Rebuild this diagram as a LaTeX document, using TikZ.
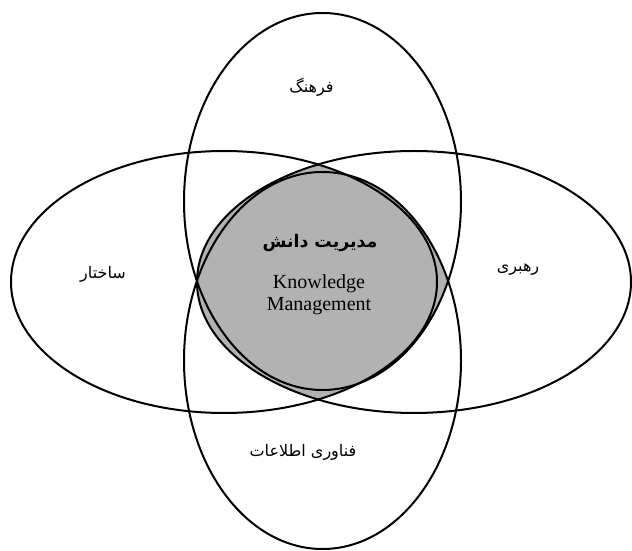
\documentclass[tikz,border=0pt]{standalone}
\usepackage{fontspec}
\setmainfont{Liberation Serif}
\newfontfamily\arabicfont[Script=Arabic]{DejaVu Sans}
\TeXXeTstate=1
\tikzset{
  ring/.style={draw=black, line width=1.5pt},
  lensfill/.style={fill=black!30},
  falabel/.style={font=\arabicfont\fontsize{12pt}{14pt}\selectfont, inner sep=0pt},
  fabold/.style={font=\arabicfont\bfseries\fontsize{13pt}{15pt}\selectfont, inner sep=0pt},
  enlabel/.style={font=\fontsize{15pt}{16.5pt}\selectfont, align=center, inner sep=0pt}
}
\begin{document}
\begin{tikzpicture}[x=0.75pt,y=0.75pt]
\useasboundingbox (0,0) rectangle (632,550);
% ellipse centres
\coordinate (ctop) at (322.5,348.5);
\coordinate (cbot) at (322.5,189.5);
\coordinate (cleft) at (224,268);
\coordinate (cright) at (414,268);
% gray core: union of the two lenses
\begin{scope}
  \clip (ctop) ellipse [x radius=138.5, y radius=188.5];
  \fill[lensfill] (cbot) ellipse [x radius=138.5, y radius=188.5];
\end{scope}
\begin{scope}
  \clip (cleft) ellipse [x radius=213, y radius=131];
  \fill[lensfill] (cright) ellipse [x radius=217, y radius=131];
\end{scope}
% outlines
\draw[ring] (ctop) ellipse [x radius=138.5, y radius=188.5];
\draw[ring] (cbot) ellipse [x radius=138.5, y radius=188.5];
\draw[ring] (cleft) ellipse [x radius=213, y radius=131];
\draw[ring] (cright) ellipse [x radius=217, y radius=131];
% labels
\node[falabel] (farhang) at (311.5,463) {\beginR فرهنگ\endR};
\node[falabel] (sakhtar) at (103,276) {\beginR ساختار\endR};
\node[falabel] (rahbari) at (518,280) {\beginR رهبری\endR};
\node[falabel] (fanavari) at (303,98) {\beginR فناوری اطلاعات\endR};
\node[fabold] (kmfa) at (320,307) {\beginR مدیریت دانش\endR};
\node[enlabel] (kmen) at (319,255) {Knowledge\\Management};
\end{tikzpicture}
\end{document}
